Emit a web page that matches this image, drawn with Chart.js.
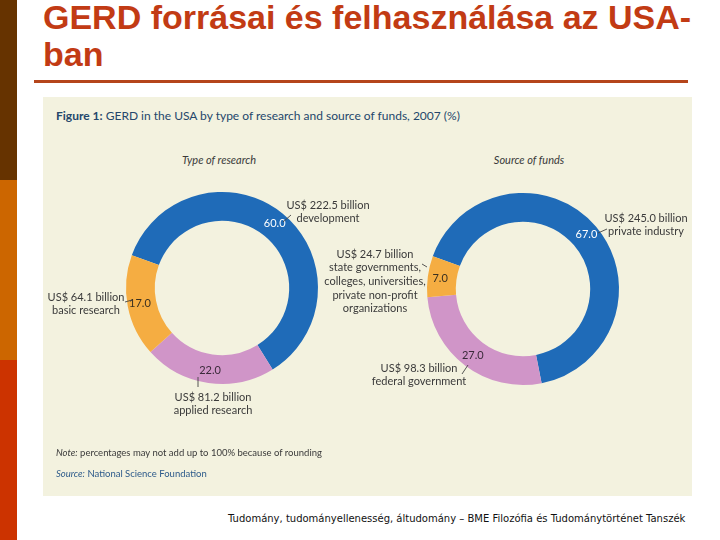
<!DOCTYPE html>
<html>
<head>
<meta charset="utf-8">
<script src="https://cdn.jsdelivr.net/npm/chart.js@4.4.1/dist/chart.umd.min.js"></script>
<style>
  html, body { margin: 0; padding: 0; background: #ffffff; }
  body { width: 720px; height: 540px; position: relative; overflow: hidden; font-family: Lato, "Open Sans", sans-serif; }
  .strip { position: absolute; left: 0; width: 17px; height: 180px; }
  #title { position: absolute; left: 43px; top: -1px; font-family: "Liberation Sans", Arial, sans-serif; font-weight: bold;
           font-size: 34px; line-height: 37px; color: #c23b14; white-space: nowrap; transform-origin: 0 0; }
  #rule { position: absolute; left: 34px; top: 80px; width: 654px; height: 3px; background: #b5451b; }
  #box { position: absolute; left: 43px; top: 97px; width: 649px; height: 399px; background: #f3f2df; }
  #box canvas { position: absolute; left: 0; top: 0; }
  .txt { position: absolute; white-space: nowrap; font-size: 11px; color: #3a3a3a; }
  #fig { left: 13px; top: 11px; color: #24476b; font-size: 12px; }
  .sub { font-style: italic; transform: translateX(-50%); }
  #footer { position: absolute; left: 228px; top: 513px; font-family: "DejaVu Sans", Verdana, sans-serif; font-size: 10px; color: #111; white-space: nowrap; }
</style>
</head>
<body>
<div class="strip" style="top:0;background:#663300"></div>
<div class="strip" style="top:180px;background:#cc6600"></div>
<div class="strip" style="top:360px;background:#cc3300"></div>
<div id="title">GERD forrásai és felhasználása az USA-<br>ban</div>
<div id="rule"></div>
<div id="box">
  <div class="txt" id="fig"><b>Figure 1:</b> GERD in the USA by type of research and source of funds, 2007 (%)</div>
  <div class="txt sub" style="left:176px;top:56px">Type of research</div>
  <div class="txt sub" style="left:486px;top:56px">Source of funds</div>
  <canvas id="c1" width="649" height="399"></canvas>
  <canvas id="c2" width="649" height="399"></canvas>
  <div class="txt" style="left:13px;top:350px;font-size:9.5px"><i>Note:</i> percentages may not add up to 100% because of rounding</div>
  <div class="txt" style="left:13px;top:371px;font-size:9.5px;color:#2c5a8a"><i>Source:</i> National Science Foundation</div>
</div>
<div id="footer">Tudomány, tudományellenesség, áltudomány – BME Filozófia és Tudománytörténet Tanszék</div>

<script>
// ---- data ----
const researchTypes = ['development', 'applied research', 'basic research'];
const researchShares = [60.0, 22.0, 17.0];
const researchBillions = [222.5, 81.2, 64.1];

const fundSources = [
  'private industry',
  'federal government',
  ['state governments,', 'colleges, universities,', 'private non-profit', 'organizations']
];
const fundShares = [67.0, 27.0, 7.0];
const fundBillions = [245.0, 98.3, 24.7];

const sliceColors = ['#1f6bb8', '#d095c8', '#f5ad42'];
const valueTextColors = ['#ffffff', '#3a2a3a', '#3a3020'];

// ---- callout plugin ----
const calloutPlugin = {
  id: 'callouts',
  afterDatasetsDraw(chart, args, opts) {
    const ctx = chart.ctx;
    const meta = chart.getDatasetMeta(0);
    const ds = chart.data.datasets[0];
    meta.data.forEach((arc, i) => {
      const p = arc.getProps(['x', 'y', 'startAngle', 'endAngle', 'innerRadius', 'outerRadius'], true);
      const a = (p.startAngle + p.endAngle) / 2;
      const r = (p.innerRadius + p.outerRadius) / 2 + 2;
      ctx.save();
      ctx.font = '11px Lato';
      ctx.textAlign = 'center';
      ctx.textBaseline = 'middle';
      ctx.fillStyle = valueTextColors[i];
      ctx.fillText(ds.data[i].toFixed(1), p.x + Math.cos(a) * r, p.y + Math.sin(a) * r);

      const c = opts.layout[i];
      const lab = chart.data.labels[i];
      const lines = ['US$ ' + opts.billions[i].toFixed(1) + ' billion'].concat(lab);
      ctx.fillStyle = '#3a3a3a';
      lines.forEach((t, k) => ctx.fillText(t, p.x + c.dx, p.y + c.dy + k * 13.7));

      ctx.beginPath();
      ctx.moveTo(p.x + c.l[0], p.y + c.l[1]);
      ctx.lineTo(p.x + c.l[2], p.y + c.l[3]);
      ctx.strokeStyle = '#444';
      ctx.lineWidth = 0.9;
      ctx.stroke();
      ctx.restore();
    });
  }
};

function makeDonut(id, labels, shares, billions, padding, layout) {
  return new Chart(document.getElementById(id), {
    type: 'doughnut',
    data: {
      labels: labels,
      datasets: [{ data: shares, backgroundColor: sliceColors, borderWidth: 0 }]
    },
    options: {
      responsive: false,
      animation: false,
      events: [],
      rotation: -70,
      cutout: '70%',
      layout: { padding: padding },
      plugins: {
        legend: { display: false },
        tooltip: { enabled: false },
        callouts: { billions: billions, layout: layout }
      }
    },
    plugins: [calloutPlugin]
  });
}

makeDonut('c1', researchTypes, researchShares, researchBillions,
  { left: 83, right: 374, top: 95, bottom: 112 },
  [
    { dx: 106, dy: -83, l: [61, -66, 69, -73] },
    { dx: -9, dy: 109, l: [-24, 89, -24, 99] },
    { dx: -136, dy: 9, l: [-97, 14, -90, 12] }
  ]);

makeDonut('c2', fundSources, fundShares, fundBillions,
  { left: 384, right: 73, top: 96, bottom: 111 },
  [
    { dx: 123, dy: -71, l: [75, -56, 84, -60] },
    { dx: -104, dy: 79, l: [-61, 85, -55, 76] },
    { dx: -148, dy: -35, l: [-101, -25, -96, -22] }
  ]);
</script>
</body>
</html>
